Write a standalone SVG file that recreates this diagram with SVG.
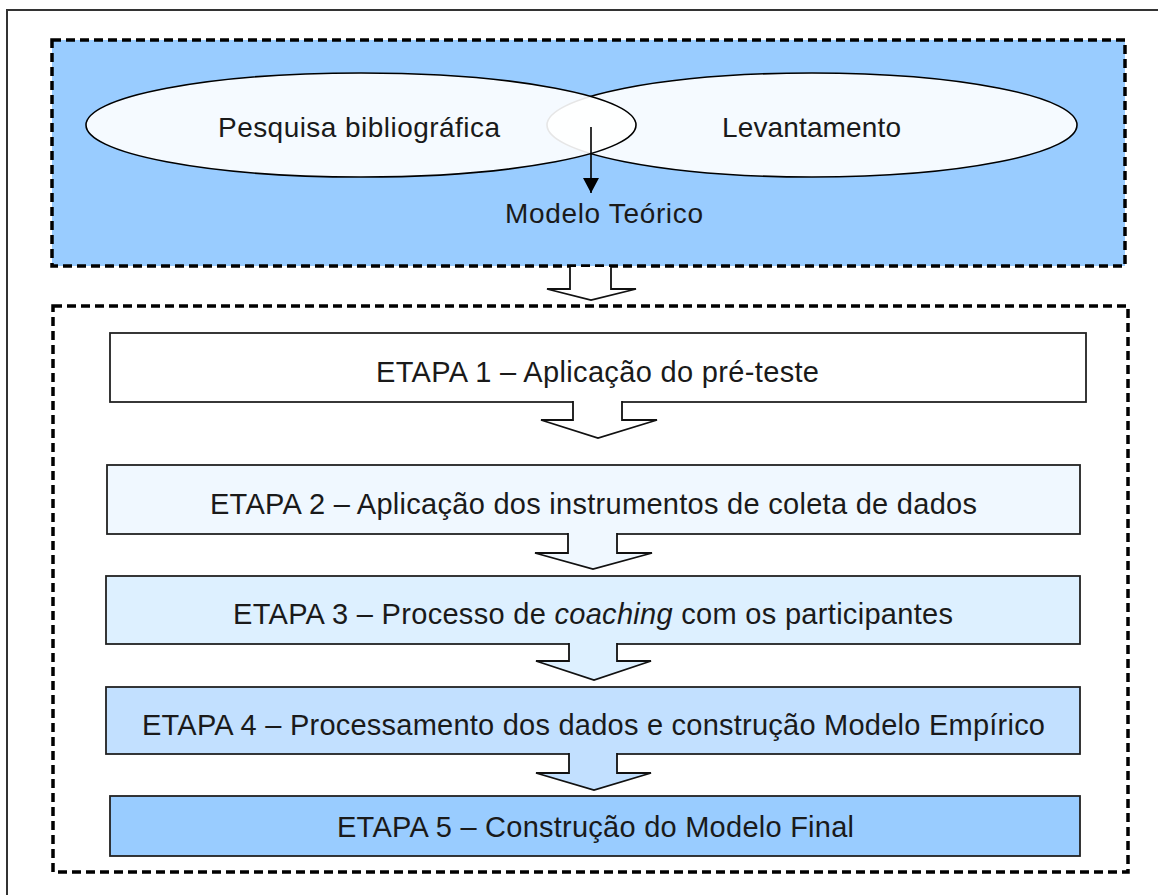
<svg xmlns="http://www.w3.org/2000/svg" width="1158" height="895" viewBox="0 0 1158 895">
  <style>
    .frame { fill: none; stroke: #333; stroke-width: 2; }
    .dash { stroke: #000; stroke-width: 3.5; stroke-dasharray: 9 5; }
    .ell { fill: #ffffff; fill-opacity: 0.9; stroke: #000; stroke-width: 1.6; }
    .box { stroke: #222; stroke-width: 1.8; }
    .blk { stroke: #111; stroke-width: 1.8; stroke-linejoin: miter; }
    .lbl { font-family: "Liberation Sans", Arial, sans-serif; fill: #1a1a1a; }
    .top { font-size: 28px; }
    .step { font-size: 29px; }
  </style>
  <defs>
    <marker id="arrowHead" markerWidth="15" markerHeight="16" refX="15" refY="8" orient="auto" markerUnits="userSpaceOnUse" viewBox="0 0 15 16">
      <path d="M0,0 L15,8 L0,16 Z" fill="#000"/>
    </marker>
  </defs>

  <rect width="1158" height="895" fill="#ffffff"/>
  <!-- page frame: only top and left edges fall inside the canvas -->
  <path class="frame" d="M7,895 V10 H1158"/>

  <!-- upper stage: theory -->
  <g id="theory-panel">
    <rect class="dash" x="52" y="40" width="1073" height="226" fill="#99ccff"/>
  </g>
  <g id="levantamento">
    <ellipse class="ell" cx="812" cy="125" rx="265" ry="52"/>
    <text class="lbl top" x="722" y="137" textLength="179" lengthAdjust="spacing">Levantamento</text>
  </g>
  <g id="pesquisa">
    <ellipse class="ell" cx="361" cy="125" rx="275" ry="52"/>
    <text class="lbl top" x="218" y="137" textLength="282" lengthAdjust="spacing">Pesquisa bibliográfica</text>
  </g>
  <g id="modelo-teorico">
    <text class="lbl top" x="505" y="223" textLength="198" lengthAdjust="spacing">Modelo Teórico</text>
  </g>

  <!-- lower stage: steps -->
  <g id="steps-panel">
    <rect class="dash" x="53" y="306" width="1075" height="566" fill="none"/>
  </g>
  <g id="etapa1">
    <rect class="box" x="110" y="333" width="976" height="69" fill="#ffffff"/>
    <text class="lbl step" x="376" y="382" textLength="443" lengthAdjust="spacing">ETAPA 1 – Aplicação do pré-teste</text>
  </g>
  <g id="etapa2">
    <rect class="box" x="107" y="465" width="973" height="69" fill="#f0f8ff"/>
    <text class="lbl step" x="210" y="514" textLength="767" lengthAdjust="spacing">ETAPA 2 – Aplicação dos instrumentos de coleta de dados</text>
  </g>
  <g id="etapa3">
    <rect class="box" x="106" y="576" width="974" height="68" fill="#ddf0ff"/>
    <text class="lbl step" x="233" y="624" textLength="720" lengthAdjust="spacing">ETAPA 3 – Processo de <tspan font-style="italic">coaching</tspan> com os participantes</text>
  </g>
  <g id="etapa4">
    <rect class="box" x="106" y="687" width="974" height="67" fill="#c2e0ff"/>
    <text class="lbl step" x="142" y="735" textLength="903" lengthAdjust="spacing">ETAPA 4 – Processamento dos dados e construção Modelo Empírico</text>
  </g>
  <g id="etapa5">
    <rect class="box" x="110" y="796" width="970" height="60" fill="#99ccff"/>
    <text class="lbl step" x="337" y="837" textLength="517" lengthAdjust="spacing">ETAPA 5 – Construção do Modelo Final</text>
  </g>

  <!-- connectors -->
  <g id="connectors">
    <line x1="591" y1="127" x2="591" y2="193" stroke="#000" stroke-width="1.6" marker-end="url(#arrowHead)"/>
    <path class="blk" d="M570,267 V289 H547 L591,300 L636,289 H611 V267" fill="#ffffff"/>
    <path class="blk" d="M573,401 V420 H541 L598,438 L657,420 H622 V401" fill="#ffffff"/>
    <path class="blk" d="M568,533 V553 H535 L593,569 L652,553 H617 V533" fill="#f0f8ff"/>
    <path class="blk" d="M569,643 V661 H536 L594,680 L651,661 H617 V643" fill="#ddf0ff"/>
    <path class="blk" d="M569,753 V773 H536 L594,790 L651,773 H617 V753" fill="#c2e0ff"/>
  </g>
</svg>
